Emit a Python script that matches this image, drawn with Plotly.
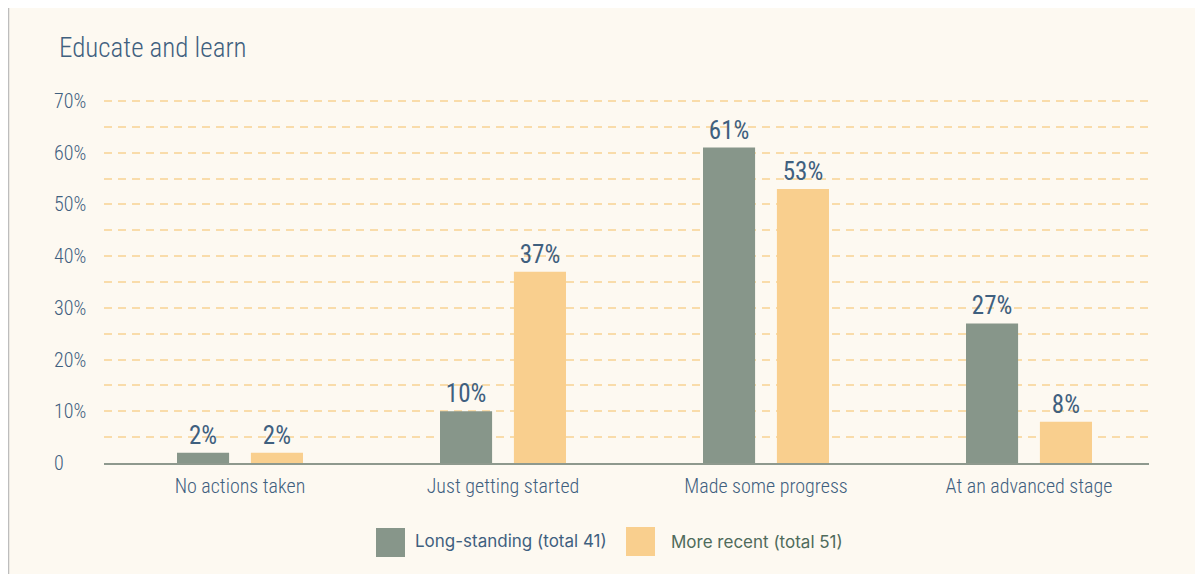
import plotly.graph_objects as go

categories = ["No actions taken", "Just getting started", "Made some progress", "At an advanced stage"]
long_standing = [2, 10, 61, 27]
more_recent = [2, 37, 53, 8]
series_names = ["Long-standing (total 41)", "More recent (total 51)"]
tick_values = [0, 10, 20, 30, 40, 50, 60, 70]
tick_labels = ["0", "10%", "20%", "30%", "40%", "50%", "60%", "70%"]
title_text = "Educate and learn"

OFF = 8  # page body margin offset
W, H = 1203 - OFF, 574 - OFF
BG = "#FDF9F1"
C_LONG = "#87968A"
C_RECENT = "#F9CF8E"
TXT = "#3F607F"
COND = "Roboto Condensed, Liberation Sans Narrow, Roboto, sans-serif"

YMAX = 70.4
PXPER = (463 - 101) / 70.0
# plot area in screen coordinates
SL, SR, SB = 104, 1149, 463
ST = SB - YMAX * PXPER
L, R, T, B = SL - OFF, SR - OFF, ST - OFF, SB - OFF

x_idx = list(range(len(categories)))
fig = go.Figure()
fig.add_trace(go.Bar(
    x=x_idx, y=long_standing, name=series_names[0], width=0.198, offset=-0.2395,
    marker=dict(color=C_LONG, line=dict(width=0)),
    text=[f"{v}%" for v in long_standing], textposition="outside", cliponaxis=False,
    textfont=dict(family=COND, size=25, color=TXT, weight=400),
    showlegend=False))
fig.add_trace(go.Bar(
    x=x_idx, y=more_recent, name=series_names[1], width=0.198, offset=0.0415,
    marker=dict(color=C_RECENT, line=dict(width=0)),
    text=[f"{v}%" for v in more_recent], textposition="outside", cliponaxis=False,
    textfont=dict(family=COND, size=25, color=TXT, weight=400),
    showlegend=False))

span = R - L
unit = 263
x0 = -(240 - SL) / unit
x1 = x0 + span / unit

fig.update_xaxes(
    range=[x0, x1], tickvals=x_idx, ticktext=categories,
    tickfont=dict(family=COND, size=20, color=TXT, weight=300),
    showgrid=False, zeroline=False, showline=True, linecolor="#8E998E", linewidth=2,
    ticks="", ticklabelstandoff=4)
GRID = "#F9DCAA"
fig.update_yaxes(
    range=[0, YMAX], tickvals=tick_values, ticktext=tick_labels, showticklabels=False,
    showgrid=True, gridcolor=GRID, griddash="8px,6px", gridwidth=1.5,
    minor=dict(dtick=5, showgrid=True, gridcolor=GRID, griddash="8px,6px", gridwidth=1.5),
    zeroline=False, showline=False)


def px(xs):
    return (xs - OFF - L) / span


def py(ys):
    return (B - (ys - OFF)) / (B - T)


for v, t in zip(tick_values, tick_labels):
    fig.add_annotation(x=px(52), xref="paper", y=v, yref="y", text=t,
                       xanchor="left", yanchor="middle", showarrow=False,
                       font=dict(family=COND, size=20, color=TXT, weight=300))

shapes = [
    dict(type="line", xref="paper", yref="paper", x0=px(8.5), x1=px(8.5), y0=py(8), y1=py(574),
         line=dict(color="#BDBDBD", width=1.5), layer="below"),
    dict(type="rect", xref="paper", yref="paper", x0=px(376), x1=px(405), y0=py(528), y1=py(557),
         fillcolor=C_LONG, line=dict(width=0)),
    dict(type="rect", xref="paper", yref="paper", x0=px(626), x1=px(655), y0=py(527), y1=py(556),
         fillcolor=C_RECENT, line=dict(width=0)),
]
fig.update_layout(shapes=shapes)

fig.add_annotation(x=px(413), y=py(541), xref="paper", yref="paper", text=series_names[0],
                   xanchor="left", yanchor="middle", showarrow=False,
                   font=dict(family="Inter, Noto Sans, sans-serif", size=17, color=TXT))
fig.add_annotation(x=px(669), y=py(542), xref="paper", yref="paper", text=series_names[1],
                   xanchor="left", yanchor="middle", showarrow=False,
                   font=dict(family="Inter, Noto Sans, sans-serif", size=17, color="#4F6B5B"))

fig.add_annotation(x=px(57), y=py(48), xref="paper", yref="paper", text=title_text,
                   xanchor="left", yanchor="middle", showarrow=False,
                   font=dict(family=COND, size=27, color=TXT, weight=300))

fig.update_layout(
    width=W, height=H, autosize=False,
    margin=dict(l=L, r=W - R, t=T, b=H - B, pad=0),
    paper_bgcolor=BG, plot_bgcolor="rgba(0,0,0,0)",
    showlegend=False, barmode="overlay",
)

fig.write_html("out.html")
